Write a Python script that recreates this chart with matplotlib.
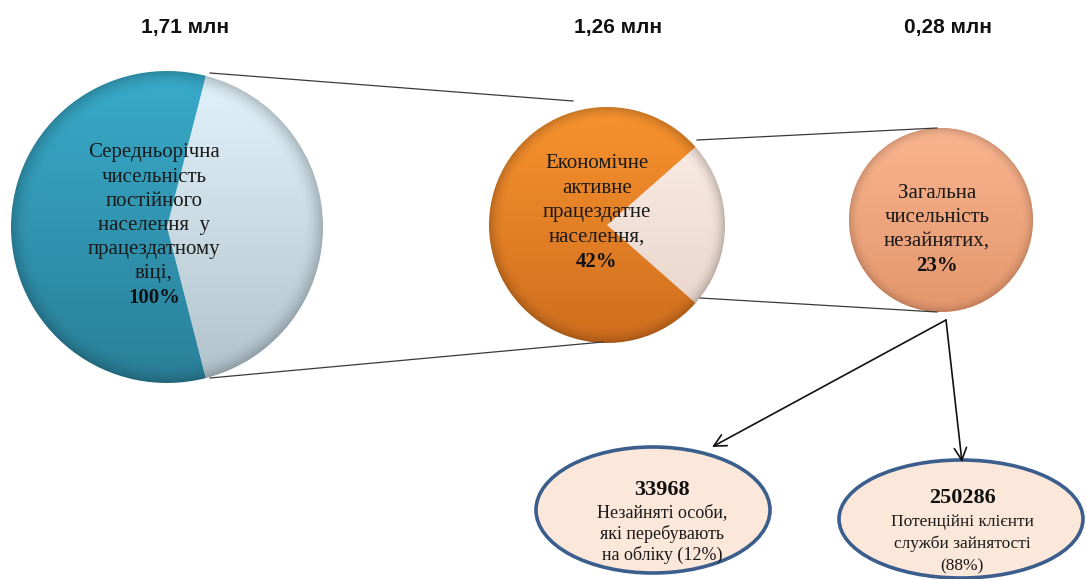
import numpy as np
import matplotlib
matplotlib.use("Agg")
import matplotlib.pyplot as plt
from matplotlib.patches import Ellipse
from matplotlib.colors import to_rgb

# ---------------- data ----------------
totals_mln = [1.71, 1.26, 0.28]
shares = [100, 42, 23]
categories = [
    ["Середньорічна", "чисельність", "постійного", "населення  у", "працездатному", "віці,"],
    ["Економічне", "активне", "працездатне", "населення,"],
    ["Загальна", "чисельність", "незайнятих,"],
]
sub_counts = [33968, 250286]
sub_shares = [12, 88]
sub_labels = [
    ["Незайняті особи,", "які перебувають", "на обліку ({}%)"],
    ["Потенційні клієнти", "служби зайнятості", "({}%)"],
]

# ---------------- figure ----------------
W, H = 1086, 579
fig = plt.figure(figsize=(W / 100, H / 100), dpi=100)
ax = fig.add_axes([0, 0, 1, 1])
SERIF = ["Liberation Serif", "DejaVu Serif"]
SANS = ["Liberation Sans", "DejaVu Sans"]


def shade_wedge(ax, wedge, top, bot, rim=0.2):
    cx, cy = wedge.center
    r = wedge.r
    n = 300
    t = np.linspace(0, 1, n)[:, None, None]
    top = np.array(to_rgb(top))
    bot = np.array(to_rgb(bot))
    col = top + (bot - top) * t
    col = np.broadcast_to(col, (n, n, 3)).copy()
    xs = np.linspace(-1, 1, n)[None, :]
    ys = np.linspace(-1, 1, n)[:, None]
    d = np.sqrt(xs ** 2 + ys ** 2)
    shade = 1 - rim * np.clip((d - 0.87) / 0.13, 0, 1) ** 2
    img = np.clip(col * shade[..., None], 0, 1)
    im = ax.imshow(img, extent=(cx - r, cx + r, cy + r, cy - r), origin="upper",
                   interpolation="bilinear", zorder=wedge.get_zorder() + 0.1)
    im.set_clip_path(wedge)


def text_lines(x, y0, lines, step, size, bold_last=None, bold_size=None):
    y = y0
    for ln in lines:
        ax.text(x, y, ln, ha="center", va="center", fontsize=size,
                family=SERIF, color="#1a1a1a", zorder=10)
        y += step
    if bold_last is not None:
        ax.text(x, y, bold_last, ha="center", va="center",
                fontsize=bold_size or size, family=SERIF, weight="bold",
                color="#111111", zorder=10)


# --- left pie: whole working-age population, light wedge = economically active share
left_split = [shares[1], 100 - shares[1]]
lw_, _ = ax.pie(left_split, center=(167, 227), radius=156,
                startangle=-shares[1] / 100 * 180, explode=[0.03, 0],
                colors=["#d6e9f2", "#2f9dbb"],
                wedgeprops=dict(edgecolor="white", linewidth=1.5), frame=True)
shade_wedge(ax, lw_[0], "#e2f3fb", "#b1c2cb")
shade_wedge(ax, lw_[1], "#38abca", "#2a7f98")

# --- middle pie: economically active, light wedge = unemployed share
mid_split = [shares[2], 100 - shares[2]]
mw, _ = ax.pie(mid_split, center=(607, 225), radius=118,
               startangle=-shares[2] / 100 * 180, explode=[0.025, 0],
               colors=["#f6e3d9", "#f08a2a"],
               wedgeprops=dict(edgecolor="white", linewidth=1.0), frame=True)
shade_wedge(ax, mw[0], "#fcefe8", "#e6d2c7")
shade_wedge(ax, mw[1], "#f8932f", "#cf6d1d")

# --- right circle: total unemployed
rw, _ = ax.pie([totals_mln[2]], center=(941, 220), radius=92,
               colors=["#f4a57a"], wedgeprops=dict(linewidth=0), frame=True)
shade_wedge(ax, rw[0], "#f9b48f", "#e3966c", rim=0.16)

# --- connector lines
line_kw = dict(color="#3a3a3a", lw=0.9, zorder=5)
ax.plot([210, 573], [73, 101], **line_kw)
ax.plot([210, 603], [378, 342], **line_kw)
ax.plot([697, 937], [140, 128], **line_kw)
ax.plot([700, 937], [298, 312], **line_kw)

# --- arrows
akw = dict(arrowstyle="->", color="#111111", lw=1.2, mutation_scale=22,
           shrinkA=0, shrinkB=0)
ax.annotate("", xy=(712, 447), xytext=(946, 320), arrowprops=akw, zorder=6)
ax.annotate("", xy=(962, 462), xytext=(946, 320), arrowprops=akw, zorder=6)

# --- bottom ellipses
ax.add_patch(Ellipse((653, 510), 234, 126, facecolor="#fbe8da",
                     edgecolor="#3b5e8d", lw=2.6, zorder=4))
ax.add_patch(Ellipse((961, 519), 244, 118, facecolor="#fbe8da",
                     edgecolor="#3b5e8d", lw=2.6, zorder=4))

# --- titles
for x, v in zip([185, 618, 948], totals_mln):
    ax.text(x, 27, f"{v:.2f}".replace(".", ",") + " млн", ha="center",
            va="center", fontsize=15, weight="bold", family=SANS, color="#111111")

# --- labels in pies
text_lines(154, 153, categories[0], 24.2, 15, f"{shares[0]}%")
text_lines(597, 164, categories[1], 24.5, 15, f"{shares[1]}%")
text_lines(937, 193, categories[2], 24.2, 15, f"{shares[2]}%")

# --- labels in ellipses
for (x, y0, step, size), cnt, shr, lab in zip(
        [(662, 490, 21, 13), (962, 498, 22, 12.5)],
        sub_counts, sub_shares, sub_labels):
    ax.text(x, y0, f"{cnt}", ha="center", va="center", fontsize=16,
            weight="bold", family=SERIF, color="#111111", zorder=10)
    y = y0 + step + 2
    for ln in lab:
        ax.text(x, y, ln.format(shr), ha="center", va="center", fontsize=size,
                family=SERIF, color="#1a1a1a", zorder=10)
        y += step

ax.set_xlim(0, W)
ax.set_ylim(H, 0)
ax.set_aspect("auto")
ax.axis("off")
fig.savefig("out.png", dpi=100, facecolor="white")
